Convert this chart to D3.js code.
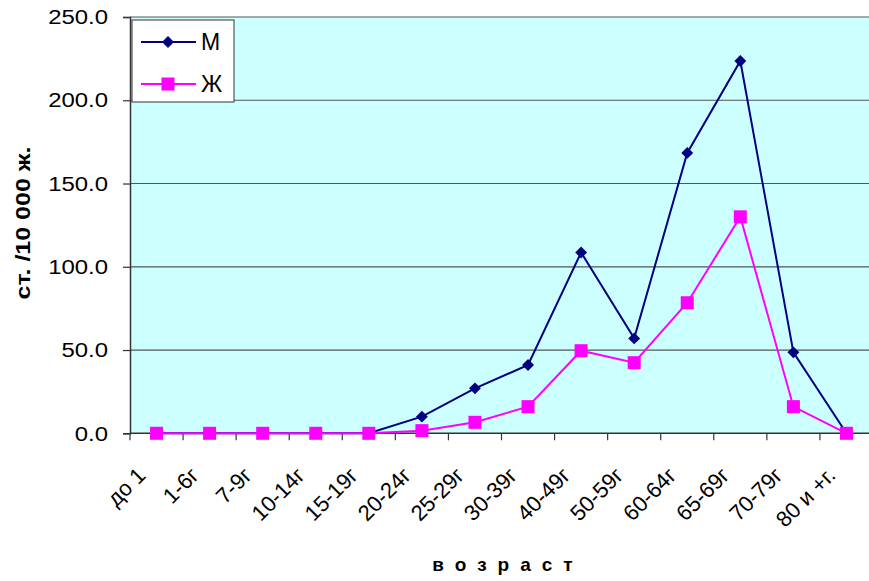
<!DOCTYPE html>
<html>
<head>
    <meta charset="utf-8" />
    <script src="https://d3js.org/d3.v7.min.js"></script>
    <style>
        body { margin: 0; background: #fff; }
        text { font-family: "Liberation Sans", Arial, sans-serif; }
    </style>
</head>
<body>
<script>
    var categories = ["до 1", "1-6г", "7-9г", "10-14г", "15-19г", "20-24г", "25-29г",
        "30-39г", "40-49г", "50-59г", "60-64г", "65-69г", "70-79г", "80 и +г."];
    var valuesM = [0, 0, 0, 0, 0, 10, 27, 41, 108.6, 57, 168.4, 223.6, 48.6, 0];
    var valuesF = [0, 0, 0, 0, 0, 1.6, 6.6, 16, 49.6, 42.4, 78.4, 130, 16, 0];
    var yTicks = [0, 50, 100, 150, 200, 250];

    var width = 869, height = 581;
    var plotLeft = 130, plotRight = 873, plotTop = 17, plotBottom = 433.3;

    var svg = d3.select("body").append("svg")
        .attr("width", width)
        .attr("height", height);

    var x = d3.scaleBand().domain(categories).range([plotLeft, plotRight]);
    var y = d3.scaleLinear().domain([0, 250]).range([plotBottom, plotTop]);

    // plot background
    svg.append("rect")
        .attr("x", plotLeft).attr("y", plotTop)
        .attr("width", plotRight - plotLeft).attr("height", plotBottom - plotTop)
        .attr("fill", "#ccffff");

    // gridlines
    svg.append("g").selectAll("line")
        .data(yTicks.filter(function (d) { return d > 0; }))
        .enter().append("line")
        .attr("x1", plotLeft).attr("x2", plotRight)
        .attr("y1", function (d) { return y(d); })
        .attr("y2", function (d) { return y(d); })
        .attr("stroke", "#555")
        .attr("stroke-width", 1.2);

    // y axis
    var yAxis = svg.append("g")
        .attr("transform", "translate(" + plotLeft + ",0)")
        .call(d3.axisLeft(y).tickValues(yTicks).tickSize(7).tickFormat(d3.format(".1f")));
    yAxis.attr("font-size", null).attr("font-family", null);
    yAxis.select(".domain").attr("stroke", "#333").attr("stroke-width", 1.5);
    yAxis.selectAll(".tick line").attr("stroke", "#333").attr("stroke-width", 1.2);
    yAxis.selectAll("text")
        .attr("font-size", 21)
        .attr("fill", "#000")
        .attr("x", null)
        .attr("transform", "translate(-22,0) scale(1.14,1)");

    // x axis
    var xAxis = svg.append("g")
        .attr("transform", "translate(0," + plotBottom + ")");
    xAxis.append("line")
        .attr("x1", plotLeft).attr("x2", plotRight)
        .attr("stroke", "#333").attr("stroke-width", 1.5);
    xAxis.selectAll(".xt")
        .data(categories)
        .enter().append("line")
        .attr("class", "xt")
        .attr("x1", function (d) { return x(d); })
        .attr("x2", function (d) { return x(d); })
        .attr("y1", 0).attr("y2", 7)
        .attr("stroke", "#333").attr("stroke-width", 1.2);
    xAxis.selectAll(".xl")
        .data(categories)
        .enter().append("text")
        .attr("class", "xl")
        .attr("text-anchor", "end")
        .attr("font-size", 22)
        .attr("transform", function (d) {
            return "translate(" + (x(d) + x.bandwidth() / 2 - 15) + ",38) rotate(-45)";
        })
        .attr("dy", "0.35em")
        .text(function (d) { return d; });

    // lines
    var line = d3.line()
        .x(function (d, i) { return x(categories[i]) + x.bandwidth() / 2; })
        .y(function (d) { return y(d); });

    svg.append("path").datum(valuesM)
        .attr("d", line).attr("fill", "none")
        .attr("stroke", "#000080").attr("stroke-width", 2);
    svg.append("path").datum(valuesF)
        .attr("d", line).attr("fill", "none")
        .attr("stroke", "#ff00ff").attr("stroke-width", 2);

    var diamond = d3.symbol().type(d3.symbolDiamond2 || d3.symbolDiamond).size(90);

    svg.append("g").selectAll("path")
        .data(valuesM)
        .enter().append("path")
        .attr("d", diamond)
        .attr("transform", function (d, i) {
            return "translate(" + (x(categories[i]) + x.bandwidth() / 2) + "," + y(d) + ")";
        })
        .attr("fill", "#000080");

    svg.append("g").selectAll("rect")
        .data(valuesF)
        .enter().append("rect")
        .attr("x", function (d, i) { return x(categories[i]) + x.bandwidth() / 2 - 6.5; })
        .attr("y", function (d) { return y(d) - 6.5; })
        .attr("width", 13).attr("height", 13)
        .attr("fill", "#ff00ff");

    // legend
    var legend = svg.append("g");
    legend.append("rect")
        .attr("x", 132).attr("y", 20)
        .attr("width", 102).attr("height", 82)
        .attr("fill", "#fff").attr("stroke", "#333").attr("stroke-width", 1);
    var legendItems = [
        { name: "М", color: "#000080", ly: 42 },
        { name: "Ж", color: "#ff00ff", ly: 84 }
    ];
    legendItems.forEach(function (it, i) {
        legend.append("line")
            .attr("x1", 141).attr("x2", 196)
            .attr("y1", it.ly).attr("y2", it.ly)
            .attr("stroke", it.color).attr("stroke-width", 2);
        if (i === 0) {
            legend.append("path").attr("d", diamond)
                .attr("transform", "translate(168," + it.ly + ")")
                .attr("fill", it.color);
        } else {
            legend.append("rect")
                .attr("x", 161.5).attr("y", it.ly - 6.5)
                .attr("width", 13).attr("height", 13)
                .attr("fill", it.color);
        }
        legend.append("text")
            .attr("x", 201).attr("y", it.ly)
            .attr("dy", "0.36em")
            .attr("font-size", 23)
            .text(it.name);
    });

    // axis titles
    svg.append("text")
        .attr("x", 508).attr("y", 571)
        .attr("text-anchor", "middle")
        .attr("font-size", 19)
        .attr("font-weight", "bold")
        .attr("letter-spacing", "11px")
        .text("возраст");

    svg.append("text")
        .attr("transform", "translate(30,223) rotate(-90) scale(1.25,1)")
        .attr("text-anchor", "middle")
        .attr("font-size", 20)
        .attr("font-weight", "bold")
        .text("ст. /10 000 ж.");
</script>
</body>
</html>
